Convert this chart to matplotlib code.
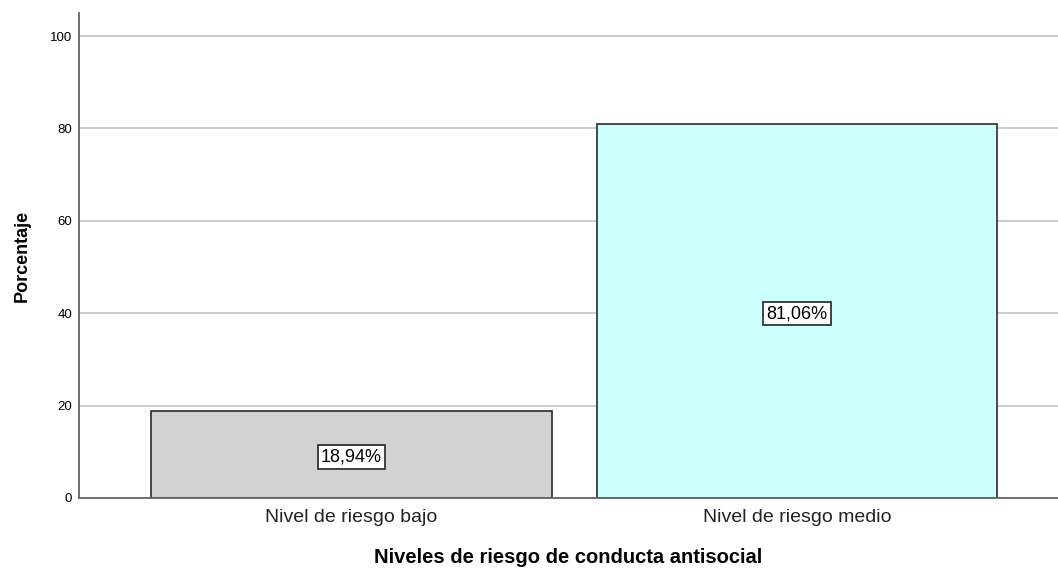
import matplotlib
matplotlib.use("Agg")
import matplotlib.pyplot as plt

categories = ["Nivel de riesgo bajo", "Nivel de riesgo medio"]
values = [18.94, 81.06]
labels = ["18,94%", "81,06%"]
colors = ["#D2D2D2", "#CCFFFF"]
yticks = [0, 20, 40, 60, 80, 100]

plt.rcParams['font.family'] = ['Liberation Sans', 'DejaVu Sans']

fig = plt.figure(figsize=(10.58, 5.70), dpi=100)
ax = fig.add_axes([79/1058, 72/570, 1 - 79/1058, (498-13)/570])

x = list(range(len(categories)))
ax.set_axisbelow(True)
ax.yaxis.grid(True, color="#C8C8C8", linewidth=1.3)
bars = ax.bar(x, values, width=0.9, color=colors, edgecolor="#2A2A2A", linewidth=1.2, zorder=2)
for xi, v, lab in zip(x, values, labels):
    ax.text(xi, v / 2 - 0.6, lab, ha="center", va="center", fontsize=13, zorder=3,
            bbox=dict(boxstyle="square,pad=0.18", facecolor="white", edgecolor="#333333", linewidth=1.3))

ax.set_xlim(-0.612, 1.586)
ax.set_ylim(0, 105)
ax.set_yticks(yticks)
ax.set_yticklabels([str(t) for t in yticks], fontsize=9.5)
ax.set_xticks(x)
ax.set_xticklabels(categories, fontsize=14, color="#222222")
ax.tick_params(axis="y", length=0, pad=5)
ax.tick_params(axis="x", length=0, pad=8)
for s in ["top", "right"]:
    ax.spines[s].set_visible(False)
for s in ["left", "bottom"]:
    ax.spines[s].set_color("#666666")
    ax.spines[s].set_linewidth(1.3)

ax.set_ylabel("Porcentaje", fontsize=13, fontweight="bold", labelpad=14)
ax.set_xlabel("Niveles de riesgo de conducta antisocial", fontsize=14.5, fontweight="bold", labelpad=16)

fig.savefig("out.png", dpi=100)
